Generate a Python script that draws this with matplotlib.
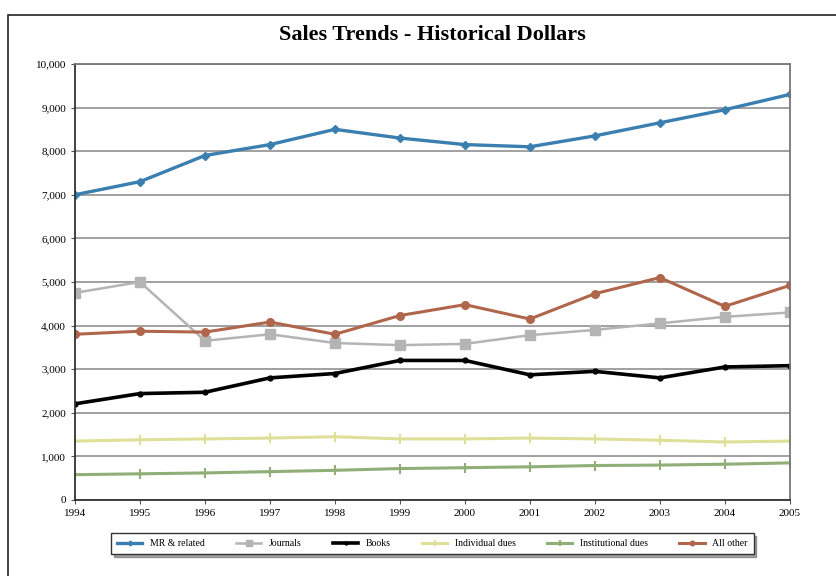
import matplotlib.pyplot as plt
import matplotlib.patches as patches
from matplotlib.ticker import FuncFormatter

plt.rcParams['font.family'] = ['Liberation Serif', 'DejaVu Serif']

years = [1994, 1995, 1996, 1997, 1998, 1999, 2000, 2001, 2002, 2003, 2004, 2005]
mr_related = [7000, 7300, 7900, 8150, 8500, 8300, 8150, 8100, 8350, 8650, 8950, 9300]
journals = [4750, 5000, 3650, 3800, 3600, 3550, 3580, 3780, 3900, 4050, 4200, 4300]
books = [2205, 2440, 2470, 2800, 2900, 3200, 3200, 2870, 2950, 2800, 3050, 3080]
indiv_dues = [1350, 1380, 1400, 1420, 1450, 1400, 1400, 1420, 1400, 1370, 1330, 1350]
inst_dues = [580, 600, 620, 650, 680, 720, 740, 760, 790, 800, 820, 850]
all_other = [3800, 3870, 3850, 4080, 3800, 4230, 4480, 4150, 4730, 5100, 4440, 4920]

fig = plt.figure(figsize=(8.36, 5.76), dpi=100)
ax = fig.add_axes([0.0897, 0.132, 0.855, 0.757])

# outer frame
fig.patches.append(patches.Rectangle((0.01, -0.02), 1.0, 0.994, transform=fig.transFigure,
                                     fill=False, edgecolor='#222222', linewidth=1.2))

ax.plot(years, mr_related, color='#3a7fb0', marker='D', markersize=4, lw=2.4, label='MR & related')
ax.plot(years, journals, color='#b4b4b4', marker='s', markersize=6.5, lw=1.8, label='Journals')
ax.plot(years, books, color='black', marker='o', markersize=3.5, lw=2.6, label='Books')
ax.plot(years, indiv_dues, color='#e0df98', marker='+', markersize=7, mew=1.5, lw=2.2, label='Individual dues')
ax.plot(years, inst_dues, color='#8fae78', marker='+', markersize=7, mew=1.5, lw=2.2, label='Institutional dues')
ax.plot(years, all_other, color='#b0664a', marker='o', markersize=5.5, lw=2.2, label='All other')

ax.set_xlim(1994, 2005)
ax.set_ylim(0, 10000)
ax.set_xticks(years)
ax.set_yticks(range(0, 10001, 1000))
ax.yaxis.set_major_formatter(FuncFormatter(lambda v, p: f'{int(v):,}'))
ax.tick_params(axis='both', labelsize=8, length=3, color='#555555')
ax.grid(axis='y', color='#999999', lw=1.3)
ax.set_axisbelow(True)
for s in ax.spines.values():
    s.set_color('#777777')
    s.set_linewidth(1.3)
ax.spines['left'].set_color('#333333')
ax.spines['bottom'].set_color('#333333')

ax.set_title('Sales Trends - Historical Dollars', fontsize=16, fontweight='bold', pad=17)

ax.legend(loc='upper center', bbox_to_anchor=(0.5, -0.065), ncol=6, fontsize=7,
          frameon=True, fancybox=False, shadow=True, edgecolor='#333333',
          handlelength=2.6, columnspacing=3.2, borderpad=0.6, markerscale=0.6)

fig.savefig('out.png', dpi=100)
